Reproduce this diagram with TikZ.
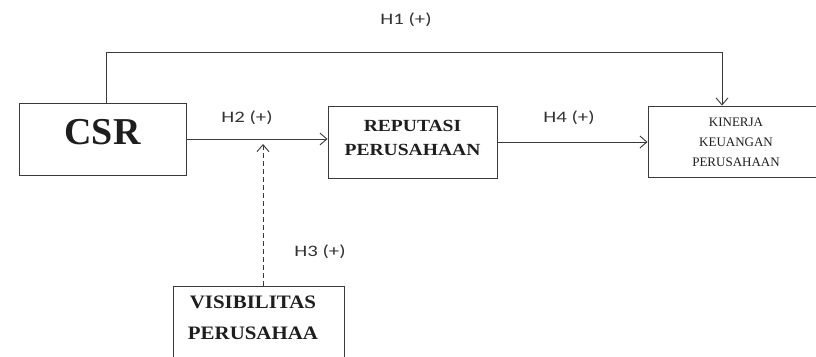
\documentclass[tikz,border=0pt]{standalone}
\usepackage{fontspec}
\usetikzlibrary{arrows.meta}
\newfontfamily\boxfont[FakeStretch=1.15]{Liberation Serif}
\newfontfamily\visfont[FakeStretch=1.1]{Liberation Serif}
\newfontfamily\kinfont{Liberation Serif}
\newfontfamily\csrfont{Liberation Serif}
\newfontfamily\labfont[FakeStretch=1.3]{Carlito}
\definecolor{linec}{HTML}{3A3A3A}
\definecolor{txtc}{HTML}{1E1E1E}
\definecolor{labc}{HTML}{333333}
\begin{document}
\begin{tikzpicture}[x=1pt,y=-1pt,
  box/.style={draw=linec, line width=0.9pt, rectangle, inner sep=0pt},
  arr/.style={draw=linec, line width=0.9pt, -{Straight Barb[length=7pt,width=12pt]}},
  hlab/.style={font=\labfont\fontsize{16}{18}\selectfont, text=labc, inner sep=0pt},
  btxt/.style={text=txtc, inner sep=0pt, align=center}
]
\useasboundingbox[fill=white] (0,0) rectangle (816,356);
% boxes
\node[box, minimum width=167pt, minimum height=72pt] (csr) at (102.5,139) {};
\node[box, minimum width=169pt, minimum height=72pt] (rep) at (412.5,142) {};
\node[box, minimum width=172pt, minimum height=71pt] (kin) at (734,141.5) {};
\node[box, minimum width=171pt, minimum height=84pt] (vis) at (258.5,328) {};
% box texts
\node[btxt, font=\csrfont\bfseries\fontsize{38}{40}\selectfont] (csrt) at (102.5,132.5) {CSR};
\node[btxt, font=\boxfont\bfseries\fontsize{17}{24}\selectfont] (rept) at (412.5,137.5) {REPUTASI\\PERUSAHAAN};
\node[btxt, font=\kinfont\fontsize{13}{20}\selectfont] (kint) at (736,142) {KINERJA\\KEUANGAN\\PERUSAHAAN};
\node[btxt, font=\visfont\bfseries\fontsize{19}{31}\selectfont] (vist) at (253,317.5) {VISIBILITAS\\PERUSAHAA};
% connectors
\coordinate (h1a) at (106,52);
\coordinate (h1b) at (722,52);
\coordinate (mod) at (263,144);
\draw[arr] (csr.east) -- (csr.east -| rep.west);
\draw[arr] (rep.east) -- (rep.east -| kin.west);
\draw[arr] (h1a |- csr.north) -- (h1a) -- (h1b) -- (h1b |- kin.north);
\draw[arr, dash pattern=on 5pt off 3pt] (mod |- vis.north) -- (mod);
% labels
\node[hlab] (h1) at (406,20) {H1 (+)};
\node[hlab] (h2) at (247,118) {H2 (+)};
\node[hlab] (h4) at (569,118) {H4 (+)};
\node[hlab] (h3) at (320,252) {H3 (+)};
\end{tikzpicture}
\end{document}
